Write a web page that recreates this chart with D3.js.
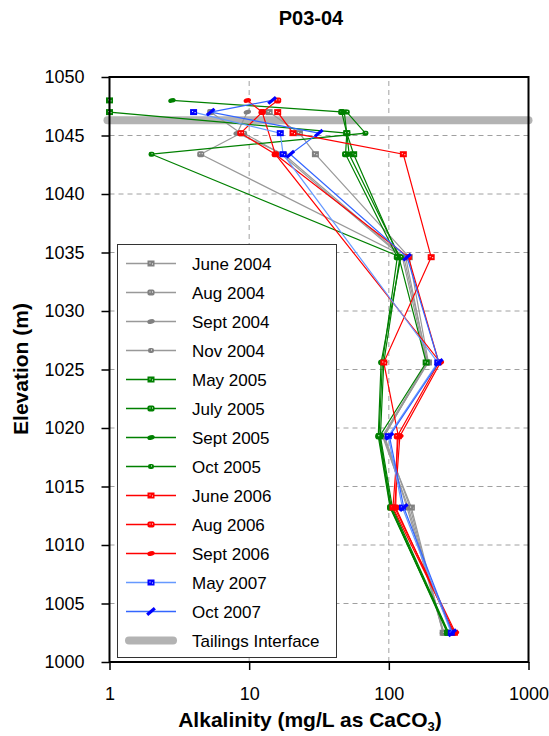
<!DOCTYPE html>
<html><head><meta charset="utf-8">
<script src="https://cdn.jsdelivr.net/npm/d3@7"></script>
<style>body{margin:0;background:#fff}svg{display:block}</style>
</head><body>
<script>
// ---------- data ----------
const elevations = [1048, 1047, 1045.2, 1043.4, 1034.6, 1025.6, 1019.3, 1013.2, 1002.5];
const seriesNames = ["June 2004","Aug 2004","Sept 2004","Nov 2004","May 2005","July 2005","Sept 2005","Oct 2005","June 2006","Aug 2006","Sept 2006","May 2007","Oct 2007"];
const june2004 = [null, 13.9, 22.9, 29.8, 140, 192, 91, 145, 245];
const aug2004  = [null, 5.3, 8.7, 4.5, 132, 188, 90, 138, 248];
const sept2004 = [null, 9.7, 8.2, 17.7, 128, 190, 92, 135, 246];
const nov2004  = [null, null, 9.2, 17.0, 125, 186, 93, 142, 244];
const may2005  = [1, 1, 50, 56, 118, 185, 86, 104, 265];
const july2005 = [null, 46, 50, 49, 115, 90, 85, 103, 262];
const sept2005 = [2.8, 48, null, 52, 120, 92, 87, 106, 268];
const oct2005  = [null, 50, 68, 2.0, 122, 88, 84, 102, 266];
const june2006 = [null, 16, 20.6, 127, 201, 92, 117, 107, 295];
const aug2006  = [16, 12.4, 8.7, 15.4, 138, 228, 115, 112, 290];
const sept2006 = [9.7, 12.4, null, 15.4, null, 234, 120, 110, 300];
const may2007  = [null, 4.0, 16.7, 17.5, null, 224, 99, 125, 280];
const oct2007  = [14.6, 5.3, 31.5, 19.7, 135, 228, 101, 128, 285];
const seriesValues = [june2004,aug2004,sept2004,nov2004,may2005,july2005,sept2005,oct2005,june2006,aug2006,sept2006,may2007,oct2007];
const tailingsElevation = 1046.3;
const xTicks = [1, 10, 100, 1000];
const yTicks = [1000,1005,1010,1015,1020,1025,1030,1035,1040,1045,1050];

// ---------- styles ----------
const lineColors = ["#999","#999","#999","#999","#008000","#008000","#008000","#008000","#ff0000","#ff0000","#ff0000","#6699ff","#3366ff"];
const markColors = ["#808080","#808080","#808080","#808080","#008000","#008000","#008000","#008000","#ff0000","#ff0000","#ff0000","#0000ff","#0000ff"];
const markTypes  = ["sq","rsq","ell","rnd","sq","rsq","ell","rnd","sq","rsq","ell","sq","dash"];

const W = 549, H = 736;
const FONT = "'Liberation Sans', Arial, sans-serif";
const x = d3.scaleLog().domain([1, 1000]).range([109.5, 528.5]);
const y = d3.scaleLinear().domain([1000, 1050]).range([662, 77]);

const svg = d3.select("body").append("svg").attr("width", W).attr("height", H)
  .style("font-family", FONT);

// gridlines
const grid = svg.append("g");
grid.selectAll(".gy").data(yTicks.filter(d => d > 1000 && d < 1050)).enter().append("line")
  .attr("x1", x(1)).attr("x2", x(1000)).attr("y1", d => y(d)).attr("y2", d => y(d))
  .attr("stroke", "#a0a0a0").attr("stroke-width", 1).attr("stroke-dasharray", "5,4");
grid.selectAll(".gx").data([10, 100]).enter().append("line")
  .attr("y1", y(1000)).attr("y2", y(1050)).attr("x1", d => x(d)).attr("x2", d => x(d))
  .attr("stroke", "#a0a0a0").attr("stroke-width", 1).attr("stroke-dasharray", "5,4");

// tailings interface
svg.append("line").attr("x1", x(1) - 2).attr("x2", x(1000))
  .attr("y1", y(tailingsElevation)).attr("y2", y(tailingsElevation))
  .attr("stroke", "#b3b3b3").attr("stroke-width", 8).attr("stroke-linecap", "round");

function marker(g, type, color) {
  if (type === "sq") {
    g.append("rect").attr("x", -3.5).attr("y", -3).attr("width", 7).attr("height", 6).attr("fill", color);
    g.append("rect").attr("x", -1.5).attr("y", -1).attr("width", 1).attr("height", 1).attr("fill", "#fff");
    g.append("rect").attr("x", 1).attr("y", 0).attr("width", 1).attr("height", 1).attr("fill", "#fff");
  } else if (type === "rsq") {
    g.append("rect").attr("x", -3.5).attr("y", -3).attr("width", 7).attr("height", 6).attr("rx", 1.8).attr("fill", color);
    g.append("rect").attr("x", -1.5).attr("y", -1).attr("width", 1).attr("height", 1).attr("fill", "#fff");
    g.append("rect").attr("x", 1).attr("y", -1).attr("width", 1).attr("height", 1).attr("fill", "#fff");
  } else if (type === "ell") {
    g.append("ellipse").attr("rx", 3.8).attr("ry", 2.3).attr("transform", "rotate(-15)").attr("fill", color);
  } else if (type === "rnd") {
    g.append("rect").attr("x", -3).attr("y", -2.5).attr("width", 6).attr("height", 5).attr("rx", 2.2).attr("fill", color);
    g.append("rect").attr("x", 0).attr("y", -1).attr("width", 1).attr("height", 1).attr("fill", "#fff");
  } else if (type === "dash") {
    g.append("rect").attr("x", -5).attr("y", -1.6).attr("width", 10).attr("height", 3.2)
      .attr("transform", "rotate(-40)").attr("fill", color);
  }
}

// series
const line = d3.line().x(d => x(d.v)).y(d => y(d.e));
const plot = svg.append("g");
seriesValues.forEach((vals, i) => {
  const pts = vals.map((v, j) => ({ v: v, e: elevations[j] })).filter(d => d.v != null);
  plot.append("path").datum(pts).attr("d", line).attr("fill", "none")
    .attr("stroke", lineColors[i]).attr("stroke-width", 1.2);
  pts.forEach(p => {
    const g = plot.append("g").attr("transform", `translate(${x(p.v)},${y(p.e)})`);
    marker(g, markTypes[i], markColors[i]);
  });
});

// frame
svg.append("rect").attr("x", x(1)).attr("y", y(1050)).attr("width", x(1000) - x(1)).attr("height", y(1000) - y(1050))
  .attr("fill", "none").attr("stroke", "#000").attr("stroke-width", 2);

// axes
const yAxis = svg.append("g").attr("transform", `translate(${x(1)},0)`)
  .call(d3.axisLeft(y).tickValues(yTicks).tickSize(8).tickPadding(17).tickFormat(d3.format("d")));
const xAxis = svg.append("g").attr("transform", `translate(0,${y(1000)})`)
  .call(d3.axisBottom(x).tickValues(xTicks).tickSize(8).tickPadding(17).tickFormat(d3.format("d")));
[yAxis, xAxis].forEach(a => {
  a.select(".domain").remove();
  a.selectAll(".tick line").attr("stroke", "#000").attr("stroke-width", 1.5);
  a.selectAll("text").attr("font-size", 18).attr("font-family", FONT).attr("fill", "#000");
});

// legend
const lg = svg.append("g");
lg.append("rect").attr("x", 117.5).attr("y", 244.5).attr("width", 219).attr("height", 413)
  .attr("fill", "#fff").attr("stroke", "#333").attr("stroke-width", 1);
seriesNames.forEach((name, i) => {
  const ly = 263.5 + i * 29;
  lg.append("line").attr("x1", 126).attr("x2", 176).attr("y1", ly).attr("y2", ly)
    .attr("stroke", lineColors[i]).attr("stroke-width", 1.6);
  marker(lg.append("g").attr("transform", `translate(151,${ly})`), markTypes[i], markColors[i]);
  lg.append("text").attr("x", 192).attr("y", ly + 6).attr("font-size", 17).attr("fill", "#000").text(name);
});
{
  const ly = 263.5 + 13 * 29;
  lg.append("line").attr("x1", 129).attr("x2", 173).attr("y1", ly).attr("y2", ly)
    .attr("stroke", "#b3b3b3").attr("stroke-width", 8).attr("stroke-linecap", "round");
  lg.append("text").attr("x", 192).attr("y", ly + 6).attr("font-size", 17).attr("fill", "#000").text("Tailings Interface");
}

// titles
svg.append("text").attr("x", 311).attr("y", 25).attr("text-anchor", "middle")
  .attr("font-size", 20).attr("font-weight", "bold").text("P03-04");
const xt = svg.append("text").attr("x", 310).attr("y", 727).attr("text-anchor", "middle")
  .attr("font-size", 21).attr("font-weight", "bold");
xt.append("tspan").text("Alkalinity (mg/L as CaCO");
xt.append("tspan").attr("font-size", 13).attr("dy", 4).text("3");
xt.append("tspan").attr("dy", -4).text(")");
svg.append("text").attr("transform", "translate(28,369) rotate(-90)").attr("text-anchor", "middle")
  .attr("font-size", 21).attr("font-weight", "bold").text("Elevation (m)");
</script>
</body></html>
